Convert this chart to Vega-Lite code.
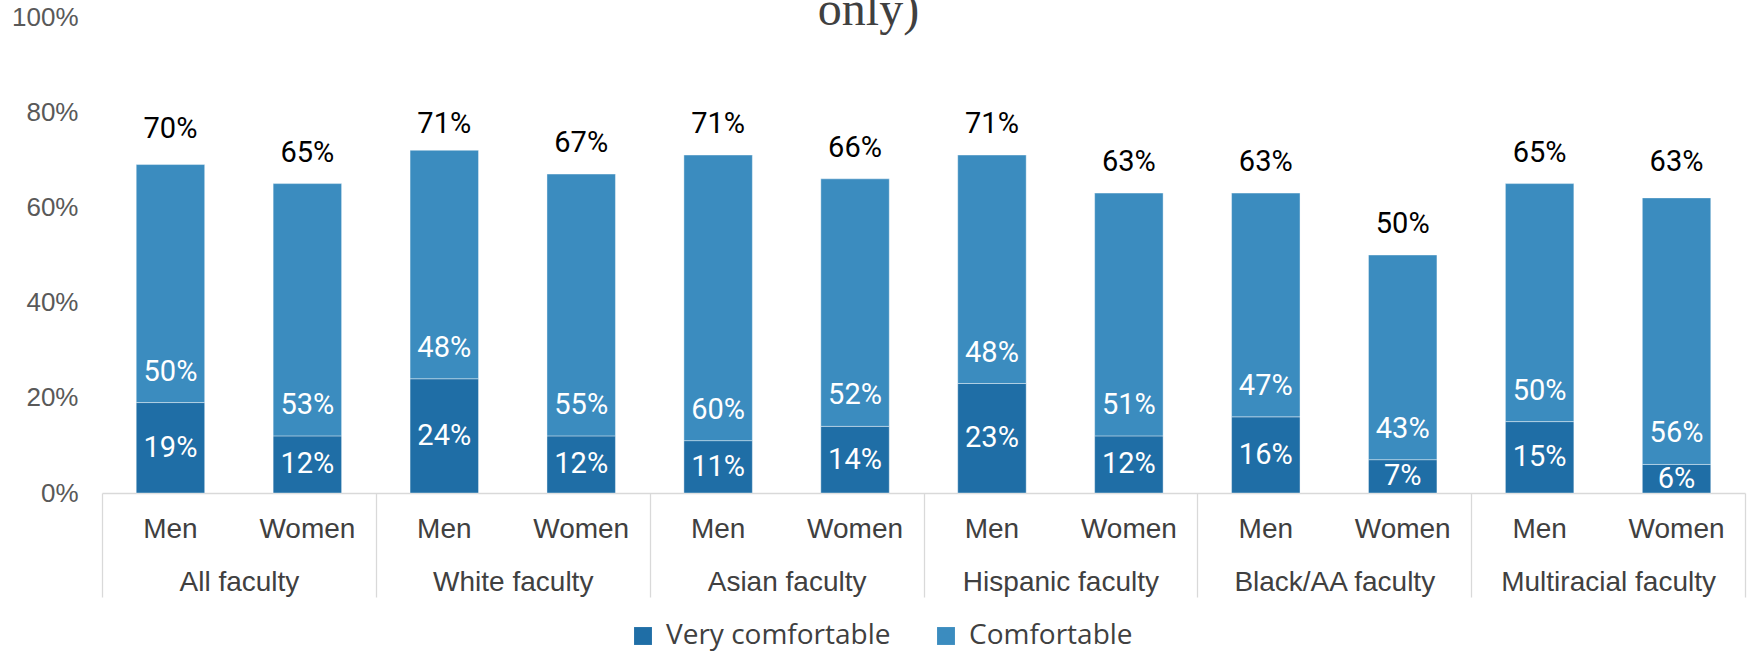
{
  "$schema": "https://vega.github.io/schema/vega-lite/v6.json",
  "autosize": {"type": "none"},
  "padding": {"left": 102, "top": 17, "right": 3, "bottom": 158},
  "width": 1643,
  "height": 476,
  "background": "#ffffff",
  "config": {"view": {"stroke": null}},
  "title": {"text": "only)", "font": "Liberation Serif", "fontSize": 48, "fontWeight": "normal", "color": "#404040", "anchor": "middle", "frame": "group", "dx": -55, "offset": -31},
  "data": {"values": [
    {"group": "All faculty", "gender": "Men", "Very comfortable": 0.19, "Comfortable": 0.50, "total": 0.70},
    {"group": "All faculty", "gender": "Women", "Very comfortable": 0.12, "Comfortable": 0.53, "total": 0.65},
    {"group": "White faculty", "gender": "Men", "Very comfortable": 0.24, "Comfortable": 0.48, "total": 0.71},
    {"group": "White faculty", "gender": "Women", "Very comfortable": 0.12, "Comfortable": 0.55, "total": 0.67},
    {"group": "Asian faculty", "gender": "Men", "Very comfortable": 0.11, "Comfortable": 0.60, "total": 0.71},
    {"group": "Asian faculty", "gender": "Women", "Very comfortable": 0.14, "Comfortable": 0.52, "total": 0.66},
    {"group": "Hispanic faculty", "gender": "Men", "Very comfortable": 0.23, "Comfortable": 0.48, "total": 0.71},
    {"group": "Hispanic faculty", "gender": "Women", "Very comfortable": 0.12, "Comfortable": 0.51, "total": 0.63},
    {"group": "Black/AA faculty", "gender": "Men", "Very comfortable": 0.16, "Comfortable": 0.47, "total": 0.63},
    {"group": "Black/AA faculty", "gender": "Women", "Very comfortable": 0.07, "Comfortable": 0.43, "total": 0.50},
    {"group": "Multiracial faculty", "gender": "Men", "Very comfortable": 0.15, "Comfortable": 0.50, "total": 0.65},
    {"group": "Multiracial faculty", "gender": "Women", "Very comfortable": 0.06, "Comfortable": 0.56, "total": 0.63}
  ]},
  "resolve": {"scale": {"y": "independent"}},
  "layer": [
    {
      "transform": [{"fold": ["Very comfortable", "Comfortable"], "as": ["segment", "pct"]}],
      "mark": {"type": "bar", "stroke": "#ffffff", "strokeWidth": 0.8, "strokeOpacity": 0.5},
      "encoding": {
        "x": {"field": "group", "type": "nominal", "sort": ["All faculty", "White faculty", "Asian faculty", "Hispanic faculty", "Black/AA faculty", "Multiracial faculty"],
              "scale": {"paddingInner": 0, "paddingOuter": 0},
              "axis": {"orient": "bottom", "title": null, "labelAngle": 0, "labelLimit": 0, "tickBand": "extent", "tickSize": 104, "tickColor": "#d9d9d9", "tickWidth": 1.3, "domainColor": "#d9d9d9", "domainWidth": 1.3, "labelFont": "Liberation Sans", "labelFontSize": 28, "labelColor": "#404040", "labelPadding": -29}},
        "xOffset": {"field": "gender", "type": "nominal", "sort": ["Men", "Women"], "scale": {"paddingInner": 0.5, "paddingOuter": 0.25}},
        "y": {"field": "pct", "type": "quantitative", "stack": "zero", "scale": {"domain": [0, 1], "nice": false},
              "axis": {"format": ".0%", "values": [0, 0.2, 0.4, 0.6, 0.8, 1], "grid": false, "domain": false, "ticks": false, "labelPadding": 24, "labelFont": "Liberation Sans", "labelFontSize": 26, "labelColor": "#595959", "title": null}},
        "color": {"field": "segment", "type": "nominal", "scale": {"domain": ["Very comfortable", "Comfortable"], "range": ["#1F6EA6", "#3B8CBF"]},
                  "legend": {"title": null, "orient": "none", "direction": "horizontal", "legendX": 527, "legendY": 605, "symbolType": "square", "symbolSize": 320, "symbolStrokeWidth": 0, "labelFont": "Open Sans", "labelFontSize": 28, "labelColor": "#404040", "labelOffset": 9, "labelLimit": 0, "columnPadding": 41, "padding": 0}},
        "order": {"field": "segment", "sort": "descending"}
      }
    },
    {
      "mark": {"type": "text", "font": "Roboto", "fontSize": 29, "color": "#ffffff", "baseline": "middle"},
      "encoding": {
        "x": {"field": "group", "type": "nominal", "sort": ["All faculty", "White faculty", "Asian faculty", "Hispanic faculty", "Black/AA faculty", "Multiracial faculty"]},
        "xOffset": {"field": "gender", "type": "nominal", "sort": ["Men", "Women"]},
        "y": {"field": "Very comfortable", "type": "quantitative", "scale": {"domain": [0, 2], "nice": false}, "axis": null},
        "text": {"field": "Very comfortable", "type": "quantitative", "format": ".0%"}
      }
    },
    {
      "mark": {"type": "text", "font": "Roboto", "fontSize": 29, "color": "#ffffff", "baseline": "middle", "dy": -31},
      "encoding": {
        "x": {"field": "group", "type": "nominal", "sort": ["All faculty", "White faculty", "Asian faculty", "Hispanic faculty", "Black/AA faculty", "Multiracial faculty"]},
        "xOffset": {"field": "gender", "type": "nominal", "sort": ["Men", "Women"]},
        "y": {"field": "Very comfortable", "type": "quantitative", "scale": {"domain": [0, 1], "nice": false}, "axis": null},
        "text": {"field": "Comfortable", "type": "quantitative", "format": ".0%"}
      }
    },
    {
      "mark": {"type": "text", "font": "Roboto", "fontSize": 29, "color": "#000000", "baseline": "middle", "dy": -31},
      "encoding": {
        "x": {"field": "group", "type": "nominal", "sort": ["All faculty", "White faculty", "Asian faculty", "Hispanic faculty", "Black/AA faculty", "Multiracial faculty"]},
        "xOffset": {"field": "gender", "type": "nominal", "sort": ["Men", "Women"]},
        "y": {"field": "total", "type": "quantitative", "scale": {"domain": [0, 1], "nice": false}, "axis": null},
        "text": {"field": "total", "type": "quantitative", "format": ".0%"}
      }
    },
    {
      "mark": {"type": "text", "font": "Liberation Sans", "fontSize": 28, "color": "#404040", "baseline": "alphabetic", "dy": 45},
      "encoding": {
        "x": {"field": "group", "type": "nominal", "sort": ["All faculty", "White faculty", "Asian faculty", "Hispanic faculty", "Black/AA faculty", "Multiracial faculty"]},
        "xOffset": {"field": "gender", "type": "nominal", "sort": ["Men", "Women"]},
        "y": {"datum": 0, "type": "quantitative", "scale": {"domain": [0, 1], "nice": false}, "axis": null},
        "text": {"field": "gender", "type": "nominal"}
      }
    }
  ]
}
